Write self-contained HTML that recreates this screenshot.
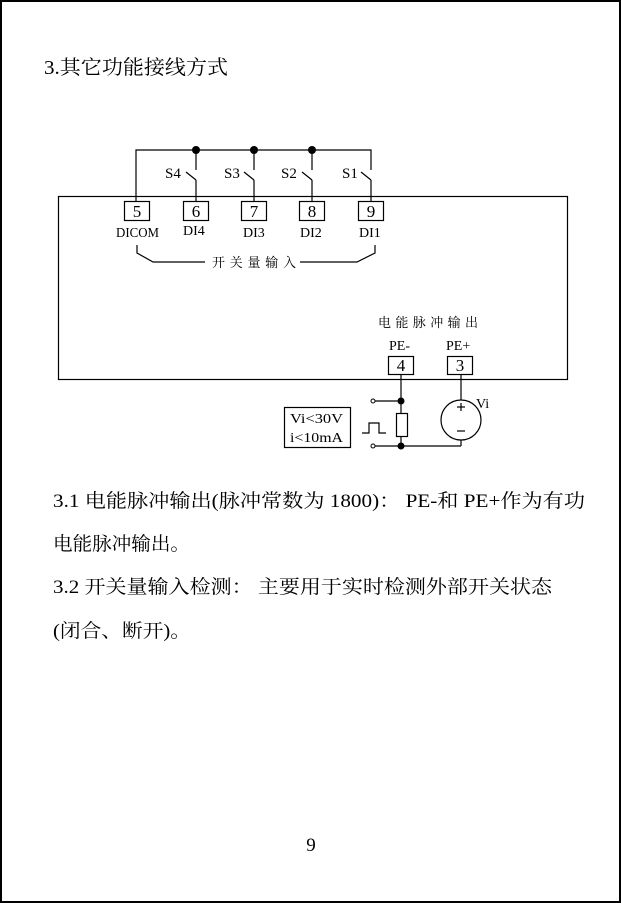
<!DOCTYPE html>
<html><head><meta charset="utf-8"><style>
html,body{margin:0;padding:0;background:#fff;}
svg{display:block;}
text{font-family:"Liberation Serif","Noto Serif CJK SC","Noto Sans CJK SC",serif;fill:#000;}
</style></head><body>
<svg width="621" height="903" viewBox="0 0 621 903" xmlns="http://www.w3.org/2000/svg">
<rect x="1" y="1" width="619" height="901" fill="none" stroke="#000" stroke-width="2"/>
<text x="44" y="74" font-size="20" textLength="184" lengthAdjust="spacingAndGlyphs">3.其它功能接线方式</text>

<g stroke="#000" stroke-width="1.2" fill="none">
<rect x="58.5" y="196.5" width="509" height="183"/>
<polyline points="136,201 136,150 371,150 371,170"/>
<line x1="196" y1="150" x2="196" y2="170"/>
<line x1="254" y1="150" x2="254" y2="170"/>
<line x1="312" y1="150" x2="312" y2="170"/>
<line x1="186" y1="172" x2="196" y2="180"/><line x1="196" y1="180" x2="196" y2="201"/>
<line x1="244" y1="172" x2="254" y2="180"/><line x1="254" y1="180" x2="254" y2="201"/>
<line x1="302" y1="172" x2="312" y2="180"/><line x1="312" y1="180" x2="312" y2="201"/>
<line x1="361" y1="172" x2="371" y2="180"/><line x1="371" y1="180" x2="371" y2="201"/>
<rect x="124.5" y="201.5" width="25" height="19" fill="#fff"/>
<rect x="183.5" y="201.5" width="25" height="19" fill="#fff"/>
<rect x="241.5" y="201.5" width="25" height="19" fill="#fff"/>
<rect x="299.5" y="201.5" width="25" height="19" fill="#fff"/>
<rect x="358.5" y="201.5" width="25" height="19" fill="#fff"/>
<polyline points="137,245 137,253 153,262 205,262"/>
<polyline points="300,262 357,262 375,253 375,245"/>
<rect x="388.5" y="356.5" width="25" height="18"/>
<rect x="447.5" y="356.5" width="25" height="18"/>
<line x1="401" y1="374" x2="401" y2="446"/>
<line x1="372" y1="401" x2="401" y2="401"/>
<line x1="372" y1="446" x2="461" y2="446"/>
<line x1="461" y1="374" x2="461" y2="400"/>
<line x1="461" y1="440" x2="461" y2="446"/>
<circle cx="461" cy="420" r="20"/>
<rect x="396.5" y="413.5" width="11" height="23" fill="#fff"/>
<rect x="284.5" y="407.5" width="66" height="40"/>
<polyline points="362,433 369,433 369,423 379,423 379,433 386,433"/>
<line x1="457" y1="407" x2="465" y2="407"/><line x1="461" y1="403" x2="461" y2="411"/>
<line x1="457" y1="431" x2="465" y2="431"/>
</g>
<circle cx="373" cy="401" r="2" fill="#fff" stroke="#000"/>
<circle cx="373" cy="446" r="2" fill="#fff" stroke="#000"/>
<g fill="#000"><circle cx="196" cy="150" r="4"/><circle cx="254" cy="150" r="4"/><circle cx="312" cy="150" r="4"/>
<circle cx="401" cy="401" r="3.5"/><circle cx="401" cy="446" r="3.5"/></g>

<g font-size="15">
<text x="165" y="178">S4</text><text x="224" y="178">S3</text><text x="281" y="178">S2</text><text x="342" y="178">S1</text>
</g>
<g font-size="17" text-anchor="middle">
<text x="137" y="217">5</text><text x="196" y="217">6</text><text x="254" y="217">7</text><text x="312" y="217">8</text><text x="371" y="217">9</text>
<text x="401" y="371">4</text><text x="460" y="371">3</text>
</g>
<g font-size="14" font-family="Liberation Mono, monospace">
<text x="116" y="237" textLength="43" lengthAdjust="spacingAndGlyphs">DICOM</text>
<text x="183" y="235">DI4</text><text x="243" y="237">DI3</text><text x="300" y="237">DI2</text><text x="359" y="237">DI1</text>
<text x="389" y="350">PE-</text><text x="446" y="350">PE+</text>
<text x="476" y="408">Vi</text>
<text x="290" y="423" textLength="53" lengthAdjust="spacingAndGlyphs">Vi&lt;30V</text>
<text x="290" y="442" textLength="53" lengthAdjust="spacingAndGlyphs">i&lt;10mA</text>
</g>
<text x="212" y="267" font-size="13" textLength="84" lengthAdjust="spacing">开关量输入</text>
<text x="378" y="327" font-size="13" textLength="100" lengthAdjust="spacing">电能脉冲输出</text>

<g font-size="19">
<text x="53" y="507" textLength="532" lengthAdjust="spacingAndGlyphs">3.1 电能脉冲输出(脉冲常数为 1800)： PE-和 PE+作为有功</text>
<text x="53" y="550" textLength="137" lengthAdjust="spacingAndGlyphs">电能脉冲输出。</text>
<text x="53" y="593" textLength="499" lengthAdjust="spacingAndGlyphs">3.2 开关量输入检测： 主要用于实时检测外部开关状态</text>
<text x="53" y="637" textLength="138" lengthAdjust="spacingAndGlyphs">(闭合、断开)。</text>
</g>
<text x="311" y="851" font-size="19" text-anchor="middle">9</text>
</svg>
</body></html>
